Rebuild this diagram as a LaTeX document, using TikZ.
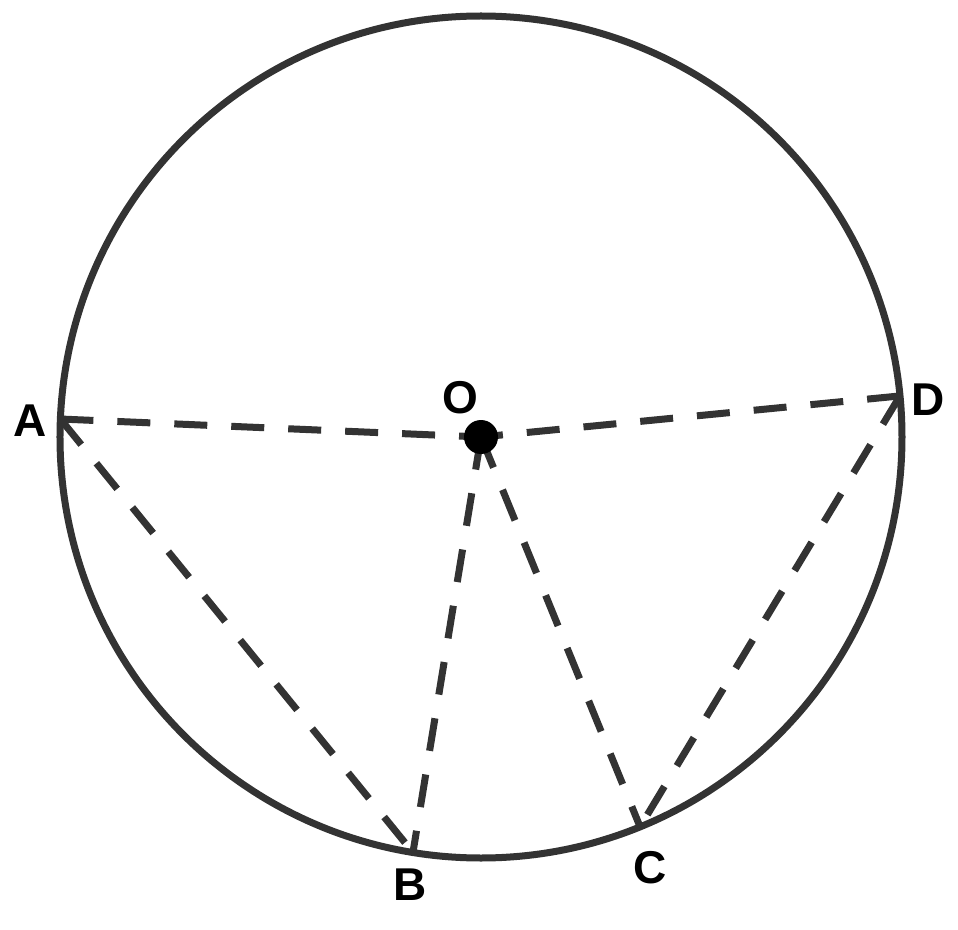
\documentclass[tikz,border=0pt]{standalone}
\usepackage{fontspec}
\setmainfont{Liberation Sans}
\definecolor{ink}{HTML}{333333}
\tikzset{
  rim/.style={draw=ink,line width=7pt},
  chord/.style={draw=ink,line width=7pt,dash pattern=on 33pt off 24pt},
  dot/.style={circle,fill=black,inner sep=0pt,minimum size=34pt},
  lbl/.style={inner sep=0pt,font=\fontsize{46}{50}\selectfont\bfseries}
}
\begin{document}
\begin{tikzpicture}[x=1pt,y=1pt]
      \useasboundingbox (-481,-492) rectangle (477,437);
      \draw[rim] (0,0) circle (421);
      \draw
        (0,0) coordinate (O)
        (177.55:421) coordinate (A)
        (260.7:421) coordinate (B)
        (292.2:421) coordinate (C)
        (5.6:421) coordinate (D);
      \node[lbl] (lA) at (-451,16) {A};
      \node[lbl] (lB) at (-71,-448) {B};
      \node[lbl] (lC) at (169,-431) {C};
      \node[lbl] (lD) at (447,37) {D};
      \node[lbl] (lO) at (-21,39) {O};
      \begin{scope}[chord]
        \draw (A) to (O);
        \draw (D) to (O);
        \draw (O) to (B);
        \draw (O) to (C);
        \draw (A) to (B);
        \draw (D) to (C);
      \end{scope}
      \node[dot] (Odot) at (O) {};
    \end{tikzpicture}
\end{document}
